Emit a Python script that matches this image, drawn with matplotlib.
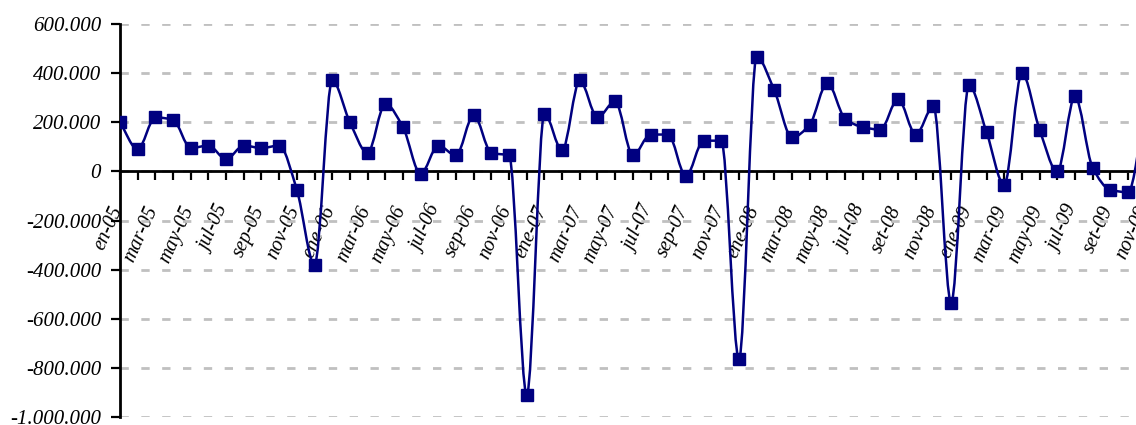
import matplotlib
matplotlib.use("Agg")
import matplotlib.pyplot as plt
from matplotlib.path import Path
from matplotlib.patches import PathPatch
from matplotlib.ticker import FuncFormatter
from matplotlib.transforms import Affine2D
import numpy as np

# Monthly values (en-05 ... nov-09), in thousands
values = [200, 90, 220, 210, 95, 105, 50, 105, 95, 105, -75, -380,
          370, 200, 75, 275, 180, -10, 105, 65, 230, 75, 65, -910,
          235, 85, 370, 220, 285, 65, 150, 150, -20, 125, 125, -765,
          465, 330, 138, 190, 360, 215, 180, 170, 295, 150, 265, -535,
          350, 160, -55, 400, 170, 0, 305, 15, -75, -85, 270]
values = [v * 1000 for v in values]

month_labels = ["en-05", "mar-05", "may-05", "jul-05", "sep-05", "nov-05",
                "ene-06", "mar-06", "may-06", "jul-06", "sep-06", "nov-06",
                "ene-07", "mar-07", "may-07", "jul-07", "sep-07", "nov-07",
                "ene-08", "mar-08", "may-08", "jul-08", "set-08", "nov-08",
                "ene-09", "mar-09", "may-09", "jul-09", "set-09", "nov-09"]

y_ticks = [600000, 400000, 200000, 0, -200000, -400000, -600000, -800000, -1000000]

navy = "#000080"
serif = ["Liberation Serif", "DejaVu Serif"]

W, H = 1136, 425
px_per_month = 17.684
n = len(values)
ax_w = px_per_month * (n - 1)          # axes extends past the right edge (chart is cropped)

fig = plt.figure(figsize=(W / 100, H / 100), dpi=100)
ax = fig.add_axes([120 / W, 1 - 417 / H, ax_w / W, (417 - 24) / H])

x = np.arange(n, dtype=float)
y = np.array(values, dtype=float)

# monotone cubic (Fritsch-Carlson) tangents for a smooth, non-overshooting line
d = np.diff(y)
m = np.zeros(n)
m[0] = d[0]
m[-1] = d[-1]
for k in range(1, n - 1):
    if d[k - 1] * d[k] <= 0:
        m[k] = 0.0
    else:
        m[k] = 2.0 / (1.0 / d[k - 1] + 1.0 / d[k])

verts = [(x[0], y[0])]
codes = [Path.MOVETO]
for k in range(n - 1):
    verts += [(x[k] + 1 / 3, y[k] + m[k] / 3),
              (x[k + 1] - 1 / 3, y[k + 1] - m[k + 1] / 3),
              (x[k + 1], y[k + 1])]
    codes += [Path.CURVE4, Path.CURVE4, Path.CURVE4]
patch = PathPatch(Path(verts, codes), facecolor="none", edgecolor=navy, lw=1.8,
                  zorder=3, joinstyle="round")
ax.add_patch(patch)
ax.plot(x, y, linestyle="none", marker="s", markersize=8.5, color=navy, zorder=4)

ax.set_yticks(y_ticks)
ax.yaxis.grid(True, color="#C0C0C0", linestyle=(0, (3, 4.5)), linewidth=2)
ax.set_axisbelow(True)
ax.yaxis.set_major_formatter(FuncFormatter(lambda v, p: f"{int(round(v)):,}".replace(",", ".")))

ax.spines["top"].set_visible(False)
ax.spines["right"].set_visible(False)
ax.spines["left"].set_linewidth(2)
ax.spines["bottom"].set_position(("data", 0))
ax.spines["bottom"].set_linewidth(2)
ax.spines["bottom"].set_zorder(2)

ax.set_xticks(x)
labels = [month_labels[i // 2] if i % 2 == 0 else "" for i in range(n)]
ax.set_xticklabels(labels)

ax.set_xlim(0, n - 1)
ax.set_ylim(-1000000, 600000)

ax.tick_params(axis="x", direction="out", length=6.5, width=1.6, pad=14)
ax.tick_params(axis="y", direction="out", length=6.5, width=1.6, pad=8)

for lab in ax.get_xticklabels():
    lab.set_rotation(66)
    lab.set_rotation_mode("anchor")
    lab.set_ha("right")
    lab.set_va("center")
    lab.set_fontfamily(serif)
    lab.set_fontstyle("italic")
    lab.set_fontsize(14.5)
for lab in ax.get_yticklabels():
    lab.set_fontfamily(serif)
    lab.set_fontstyle("italic")
    lab.set_fontsize(15)

# place the slanted month labels so that their upper-right end sits just
# under each tick, about 32 px below the zero line (as in the reference)
fig.canvas.draw()
renderer = fig.canvas.get_renderer()
zero_disp_y = ax.transData.transform((0, 0))[1]
dxs, dys = [], []
xticklabels = ax.get_xticklabels()
for i, lab in enumerate(xticklabels):
    if not lab.get_text():
        continue
    bb = lab.get_window_extent(renderer)
    tick_disp_x = ax.transData.transform((x[i], 0))[0]
    dxs.append((tick_disp_x + 7) - bb.x1)
    dys.append((zero_disp_y - 32) - bb.y1)
off = Affine2D().translate(float(np.mean(dxs)), float(np.mean(dys)))
for lab in xticklabels:
    lab.set_transform(lab.get_transform() + off)

# y labels: right edge at x = 101 px
ylabs = ax.get_yticklabels()
ydx = [101 - lab.get_window_extent(renderer).x1 for lab in ylabs if lab.get_text()]
yoff = Affine2D().translate(float(np.mean(ydx)), 0)
for lab in ylabs:
    lab.set_transform(lab.get_transform() + yoff)

fig.savefig("out.png", dpi=100)
